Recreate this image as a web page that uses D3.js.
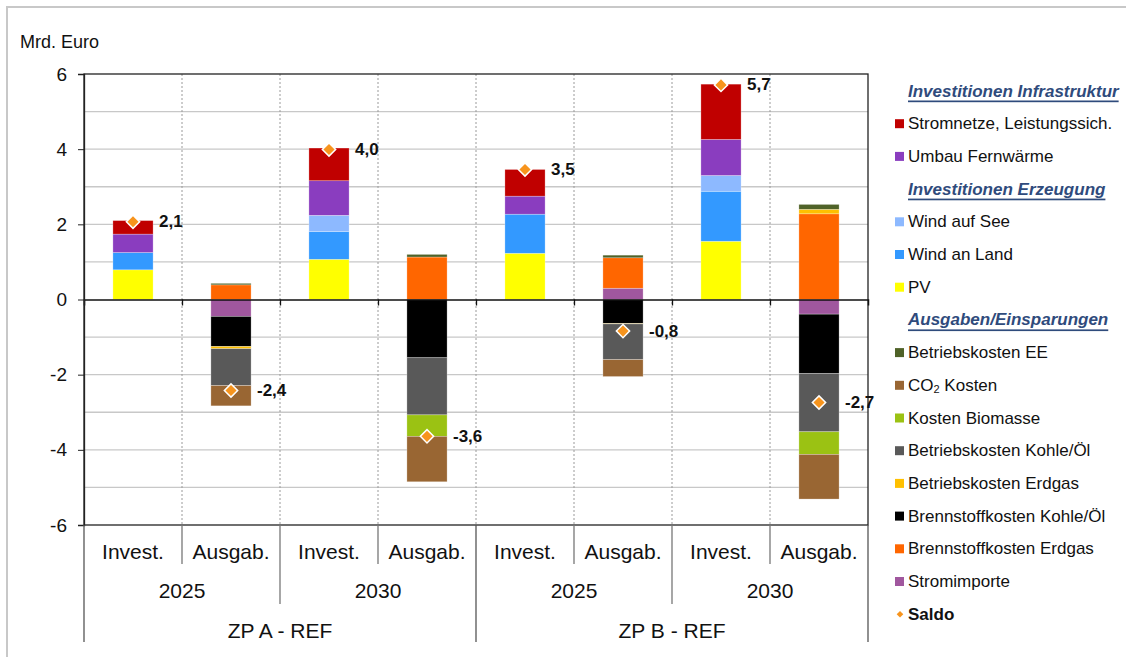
<!DOCTYPE html>
<html>
<head>
<meta charset="utf-8">
<script src="https://cdn.jsdelivr.net/npm/d3@7"></script>
<style>
  body { margin: 0; background: #fff; }
  svg { display: block; font-family: "Liberation Sans", Arial, sans-serif; }
</style>
</head>
<body>
<div id="chart"></div>
<script>
/* Investitionen vs. Ausgaben/Einsparungen – gestapelte Säulen mit Saldo. */

// categories (8 columns) and the two outer axis tiers
const categories = ["Invest.", "Ausgab.", "Invest.", "Ausgab.", "Invest.", "Ausgab.", "Invest.", "Ausgab."];
const years = ["2025", "2030", "2025", "2030"];
const groups = ["ZP A - REF", "ZP B - REF"];
const yTicks = [-6, -4, -2, 0, 2, 4, 6];

// series values in Mrd. Euro, one per column
const pv           = [0.79, 0, 1.07, 0, 1.23, 0, 1.55, 0];
const windLand     = [0.46, 0, 0.74, 0, 1.04, 0, 1.33, 0];
const windSee      = [0, 0, 0.43, 0, 0, 0, 0.42, 0];
const fernwaerme   = [0.49, 0, 0.92, 0, 0.48, 0, 0.96, 0];
const stromnetze   = [0.36, 0, 0.87, 0, 0.71, 0, 1.47, 0];
const stromimporte = [0, -0.45, 0, 0, 0, 0.30, 0, -0.39];
const brennErdgas  = [0, 0.39, 0, 1.13, 0, 0.81, 0, 2.28];
const brennKohle   = [0, -0.80, 0, -1.55, 0, -0.64, 0, -1.58];
const betrErdgas   = [0, -0.06, 0, 0, 0, -0.01, 0, 0.12];
const betrKohle    = [0, -0.98, 0, -1.52, 0, -0.95, 0, -1.55];
const biomasse     = [0, 0, 0, -0.57, 0, 0, 0, -0.60];
const co2          = [0, -0.54, 0, -1.21, 0, -0.45, 0, -1.19];
const betrEE       = [0, 0.04, 0, 0.07, 0, 0.07, 0, 0.13];
const saldo        = [2.07, -2.42, 3.99, -3.64, 3.46, -0.84, 5.71, -2.74];

// stacking order (from zero outward); the legend lists them reversed
const SERIES = [
  { key: "pv", label: "PV", color: "#ffff00", vals: pv },
  { key: "windLand", label: "Wind an Land", color: "#3399ff", vals: windLand },
  { key: "windSee", label: "Wind auf See", color: "#8db9ff", vals: windSee },
  { key: "fernwaerme", label: "Umbau Fernwärme", color: "#8a3dbf", vals: fernwaerme },
  { key: "stromnetze", label: "Stromnetze, Leistungssich.", color: "#c00000", vals: stromnetze },
  { key: "stromimporte", label: "Stromimporte", color: "#a0579e", vals: stromimporte },
  { key: "brennErdgas", label: "Brennstoffkosten Erdgas", color: "#ff6600", vals: brennErdgas },
  { key: "brennKohle", label: "Brennstoffkosten Kohle/Öl", color: "#000000", vals: brennKohle },
  { key: "betrErdgas", label: "Betriebskosten Erdgas", color: "#ffc000", vals: betrErdgas },
  { key: "betrKohle", label: "Betriebskosten Kohle/Öl", color: "#595959", vals: betrKohle },
  { key: "biomasse", label: "Kosten Biomasse", color: "#9bc213", vals: biomasse },
  { key: "co2", label: "CO2 Kosten", color: "#996633", vals: co2 },
  { key: "betrEE", label: "Betriebskosten EE", color: "#4f6228", vals: betrEE },
];
const SALDO_COLOR = "#f7941d";
const HEAD_COLOR = "#2f4b7c";

const legendRows = [
  { head: "Investitionen Infrastruktur" },
  { key: "stromnetze" }, { key: "fernwaerme" },
  { head: "Investitionen Erzeugung" },
  { key: "windSee" }, { key: "windLand" }, { key: "pv" },
  { head: "Ausgaben/Einsparungen" },
  { key: "betrEE" }, { key: "co2" }, { key: "biomasse" }, { key: "betrKohle" },
  { key: "betrErdgas" }, { key: "brennKohle" }, { key: "brennErdgas" }, { key: "stromimporte" },
  { saldo: "Saldo" },
];

/* ---- layout ------------------------------------------------------------ */
const W = 1126, H = 657;
const plot = { left: 84, right: 868, top: 74, bottom: 525 };

const svg = d3.select("#chart").append("svg")
  .attr("width", W).attr("height", H).attr("viewBox", `0 0 ${W} ${H}`);

// outer chart frame (runs off the right and bottom edge)
svg.append("rect").attr("x", 7).attr("y", 7).attr("width", W + 20).attr("height", H + 20)
  .attr("fill", "none").attr("stroke", "#c8c8c8").attr("stroke-width", 2);

const x = d3.scaleBand().domain(d3.range(categories.length))
  .range([plot.left, plot.right]).padding(0);
const y = d3.scaleLinear().domain([-6, 6]).range([plot.bottom, plot.top]);
const barW = x.bandwidth() * 0.41;
const cx = i => x(i) + x.bandwidth() / 2;

// horizontal grid, every 1 Mrd.
svg.append("g")
  .selectAll("line").data(d3.range(-5, 6).filter(v => v !== 0)).join("line")
  .attr("x1", plot.left).attr("x2", plot.right)
  .attr("y1", d => y(d)).attr("y2", d => y(d))
  .attr("stroke", "#c8c8c8").attr("stroke-width", 1.3);

// vertical dashed separators between columns
svg.append("g")
  .selectAll("line").data(d3.range(1, categories.length)).join("line")
  .attr("x1", d => x(d)).attr("x2", d => x(d))
  .attr("y1", plot.top).attr("y2", plot.bottom)
  .attr("stroke", "#9a9a9a").attr("stroke-width", 1).attr("stroke-dasharray", "2,2");

/* ---- stacked bars ------------------------------------------------------ */
const rows = categories.map((c, i) => {
  const r = { i };
  SERIES.forEach(s => { r[s.key] = s.vals[i]; });
  return r;
});
const stacked = d3.stack().keys(SERIES.map(s => s.key))
  .offset(d3.stackOffsetDiverging)(rows);

svg.append("g").selectAll("g").data(stacked).join("g")
  .attr("fill", (d, k) => SERIES[k].color)
  .selectAll("rect").data(d => d.filter(p => p[1] !== p[0])).join("rect")
  .attr("x", p => cx(p.data.i) - barW / 2)
  .attr("width", barW)
  .attr("y", p => y(Math.max(p[0], p[1])))
  .attr("height", p => Math.abs(y(p[0]) - y(p[1])))
  .attr("stroke", "rgba(255,255,255,0.45)").attr("stroke-width", 0.6);

// plot border
svg.append("rect")
  .attr("x", plot.left).attr("y", plot.top)
  .attr("width", plot.right - plot.left).attr("height", plot.bottom - plot.top)
  .attr("fill", "none").attr("stroke", "#222").attr("stroke-width", 1.3);

// zero line with ticks at the column borders
const zeroAxis = svg.append("g").attr("transform", `translate(0,${y(0)})`)
  .call(d3.axisBottom(d3.scaleLinear().domain([0, 8]).range([plot.left, plot.right]))
    .tickValues(d3.range(1, 8)).tickSize(6).tickFormat(""));
zeroAxis.select(".domain").attr("stroke", "#111").attr("stroke-width", 1.5);
zeroAxis.selectAll(".tick line").attr("stroke", "#111").attr("stroke-width", 1.3);

// y axis
const yAxis = svg.append("g").attr("transform", `translate(${plot.left},0)`)
  .call(d3.axisLeft(y).tickValues(yTicks).tickSize(6).tickPadding(11).tickFormat(d => String(d)));
yAxis.select(".domain").attr("stroke", "#222").attr("stroke-width", 1.3);
yAxis.selectAll(".tick line").attr("stroke", "#222");
yAxis.selectAll(".tick text").attr("font-size", 19).attr("fill", "#111")
  .attr("font-family", "Liberation Sans, Arial, sans-serif");

svg.append("text").attr("x", 20).attr("y", 48)
  .attr("font-size", 18).attr("fill", "#111").text("Mrd. Euro");

/* ---- saldo markers ----------------------------------------------------- */
const fmt = v => d3.format(".1f")(v).replace("−", "-").replace(".", ",");
const diamond = d3.symbol().type(d3.symbolSquare).size(88);
const sg = svg.append("g");
saldo.forEach((v, i) => {
  sg.append("path").attr("d", diamond)
    .attr("transform", `translate(${cx(i)},${y(v)}) rotate(45)`)
    .attr("fill", SALDO_COLOR).attr("stroke", "#fff").attr("stroke-width", 1.5);
  sg.append("text").attr("x", cx(i) + 26).attr("y", y(v))
    .attr("dominant-baseline", "central").attr("font-size", 17).attr("font-weight", 700)
    .attr("fill", "#111").text(fmt(v));
});

/* ---- multi-level category axis ----------------------------------------- */
const step = x.step();
const ax = svg.append("g");
categories.forEach((c, i) => {
  ax.append("text").attr("x", cx(i)).attr("y", 559).attr("text-anchor", "middle")
    .attr("font-size", 21).attr("fill", "#111").text(c);
});
years.forEach((t, k) => {
  ax.append("text").attr("x", x(2 * k) + step).attr("y", 598).attr("text-anchor", "middle")
    .attr("font-size", 21).attr("fill", "#111").text(t);
});
groups.forEach((t, g) => {
  ax.append("text").attr("x", x(4 * g) + 2 * step).attr("y", 638).attr("text-anchor", "middle")
    .attr("font-size", 21).attr("fill", "#111").text(t);
});
d3.range(categories.length + 1).forEach(b => {
  const bx = b === categories.length ? plot.right : x(b);
  const y2 = b % 4 === 0 ? 642 : (b % 2 === 0 ? 604 : 564);
  ax.append("line").attr("x1", bx).attr("x2", bx).attr("y1", plot.bottom).attr("y2", y2)
    .attr("stroke", b % 4 === 0 ? "#555" : "#777").attr("stroke-width", 1.3);
});

/* ---- legend ------------------------------------------------------------ */
const lg = svg.append("g");
const byKey = Object.fromEntries(SERIES.map(s => [s.key, s]));
legendRows.forEach((r, i) => {
  const ly = 91 + i * 32.7;
  if (r.head) {
    lg.append("text").attr("x", 908).attr("y", ly).attr("dominant-baseline", "central")
      .attr("font-size", 17).attr("font-weight", 700).attr("font-style", "italic")
      .attr("text-decoration", "underline").attr("fill", HEAD_COLOR).text(r.head);
  } else if (r.saldo) {
    lg.append("path").attr("d", d3.symbol().type(d3.symbolSquare).size(22))
      .attr("transform", `translate(900,${ly}) rotate(45)`).attr("fill", SALDO_COLOR);
    lg.append("text").attr("x", 908).attr("y", ly).attr("dominant-baseline", "central")
      .attr("font-size", 17).attr("font-weight", 700).attr("fill", "#111").text(r.saldo);
  } else {
    const s = byKey[r.key];
    lg.append("rect").attr("x", 895).attr("y", ly - 4.5).attr("width", 9).attr("height", 9)
      .attr("fill", s.color);
    const t = lg.append("text").attr("x", 908).attr("y", ly).attr("dominant-baseline", "central")
      .attr("font-size", 17).attr("fill", "#111");
    if (s.key === "co2") {
      t.append("tspan").text("CO");
      t.append("tspan").attr("font-size", 11).attr("dy", 4).text("2");
      t.append("tspan").attr("dy", -4).text(" Kosten");
    } else {
      t.text(s.label);
    }
  }
});
</script>
</body>
</html>
